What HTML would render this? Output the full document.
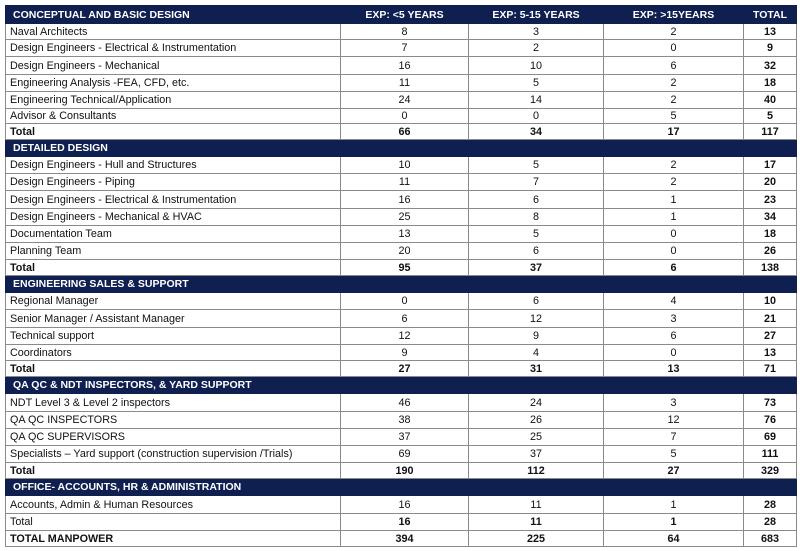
<!DOCTYPE html>
<html><head><meta charset="utf-8"><style>
html,body{margin:0;padding:0;background:#fff;width:800px;height:551px;overflow:hidden}
table{position:absolute;left:5px;top:5px;width:791px;border-collapse:collapse;table-layout:fixed;font-family:"Liberation Sans",sans-serif;font-size:10.8px;color:#111}
td{border:1px solid #8a8a8a;padding:0 0 0 4px;white-space:nowrap;overflow:hidden;line-height:12px}
td.n{text-align:center;padding:0}
td.t{text-align:center;padding:0;font-weight:bold}
tr.h td{background:#0f2050;color:#fff;font-weight:bold;border-color:#0f2050;padding-left:7px;font-size:10.5px}
tr.h td.n,tr.h td.t{padding:0}
tr.b td{font-weight:bold}
</style></head><body>
<table>
<colgroup><col style="width:335px"><col style="width:128px"><col style="width:135px"><col style="width:140px"><col style="width:53px"></colgroup>
<tr class="h" style="height:18px"><td>CONCEPTUAL AND BASIC DESIGN</td><td class="n">EXP: &lt;5 YEARS</td><td class="n">EXP: 5-15 YEARS</td><td class="n">EXP: &gt;15YEARS</td><td class="t">TOTAL</td></tr>
<tr style="height:16px"><td>Naval Architects</td><td class="n">8</td><td class="n">3</td><td class="n">2</td><td class="t">13</td></tr>
<tr style="height:17px"><td>Design Engineers - Electrical &amp; Instrumentation</td><td class="n">7</td><td class="n">2</td><td class="n">0</td><td class="t">9</td></tr>
<tr style="height:18px"><td>Design Engineers - Mechanical</td><td class="n">16</td><td class="n">10</td><td class="n">6</td><td class="t">32</td></tr>
<tr style="height:17px"><td>Engineering Analysis -FEA, CFD, etc.</td><td class="n">11</td><td class="n">5</td><td class="n">2</td><td class="t">18</td></tr>
<tr style="height:17px"><td>Engineering Technical/Application</td><td class="n">24</td><td class="n">14</td><td class="n">2</td><td class="t">40</td></tr>
<tr style="height:15px"><td>Advisor &amp; Consultants</td><td class="n">0</td><td class="n">0</td><td class="n">5</td><td class="t">5</td></tr>
<tr class="b" style="height:16px"><td>Total</td><td class="n">66</td><td class="n">34</td><td class="n">17</td><td class="t">117</td></tr>
<tr class="h" style="height:17px"><td>DETAILED DESIGN</td><td></td><td></td><td></td><td></td></tr>
<tr style="height:17px"><td>Design Engineers - Hull and Structures</td><td class="n">10</td><td class="n">5</td><td class="n">2</td><td class="t">17</td></tr>
<tr style="height:17px"><td>Design Engineers - Piping</td><td class="n">11</td><td class="n">7</td><td class="n">2</td><td class="t">20</td></tr>
<tr style="height:18px"><td>Design Engineers - Electrical &amp; Instrumentation</td><td class="n">16</td><td class="n">6</td><td class="n">1</td><td class="t">23</td></tr>
<tr style="height:17px"><td>Design Engineers - Mechanical &amp; HVAC</td><td class="n">25</td><td class="n">8</td><td class="n">1</td><td class="t">34</td></tr>
<tr style="height:17px"><td>Documentation Team</td><td class="n">13</td><td class="n">5</td><td class="n">0</td><td class="t">18</td></tr>
<tr style="height:17px"><td>Planning Team</td><td class="n">20</td><td class="n">6</td><td class="n">0</td><td class="t">26</td></tr>
<tr class="b" style="height:16px"><td>Total</td><td class="n">95</td><td class="n">37</td><td class="n">6</td><td class="t">138</td></tr>
<tr class="h" style="height:17px"><td>ENGINEERING SALES &amp; SUPPORT</td><td></td><td></td><td></td><td></td></tr>
<tr style="height:17px"><td>Regional Manager</td><td class="n">0</td><td class="n">6</td><td class="n">4</td><td class="t">10</td></tr>
<tr style="height:18px"><td>Senior Manager / Assistant Manager</td><td class="n">6</td><td class="n">12</td><td class="n">3</td><td class="t">21</td></tr>
<tr style="height:17px"><td>Technical support</td><td class="n">12</td><td class="n">9</td><td class="n">6</td><td class="t">27</td></tr>
<tr style="height:16px"><td>Coordinators</td><td class="n">9</td><td class="n">4</td><td class="n">0</td><td class="t">13</td></tr>
<tr class="b" style="height:16px"><td>Total</td><td class="n">27</td><td class="n">31</td><td class="n">13</td><td class="t">71</td></tr>
<tr class="h" style="height:17px"><td>QA QC &amp; NDT INSPECTORS, &amp; YARD SUPPORT</td><td></td><td></td><td></td><td></td></tr>
<tr style="height:18px"><td>NDT Level 3 &amp; Level 2 inspectors</td><td class="n">46</td><td class="n">24</td><td class="n">3</td><td class="t">73</td></tr>
<tr style="height:17px"><td>QA QC INSPECTORS</td><td class="n">38</td><td class="n">26</td><td class="n">12</td><td class="t">76</td></tr>
<tr style="height:17px"><td>QA QC SUPERVISORS</td><td class="n">37</td><td class="n">25</td><td class="n">7</td><td class="t">69</td></tr>
<tr style="height:17px"><td>Specialists – Yard support (construction supervision /Trials)</td><td class="n">69</td><td class="n">37</td><td class="n">5</td><td class="t">111</td></tr>
<tr class="b" style="height:16px"><td>Total</td><td class="n">190</td><td class="n">112</td><td class="n">27</td><td class="t">329</td></tr>
<tr class="h" style="height:17px"><td>OFFICE- ACCOUNTS, HR &amp; ADMINISTRATION</td><td></td><td></td><td></td><td></td></tr>
<tr style="height:18px"><td>Accounts, Admin &amp; Human Resources</td><td class="n">16</td><td class="n">11</td><td class="n">1</td><td class="t">28</td></tr>
<tr style="height:17px"><td>Total</td><td class="t">16</td><td class="t">11</td><td class="t">1</td><td class="t">28</td></tr>
<tr class="b" style="height:16px"><td>TOTAL MANPOWER</td><td class="n">394</td><td class="n">225</td><td class="n">64</td><td class="t">683</td></tr>
</table>
</body></html>
